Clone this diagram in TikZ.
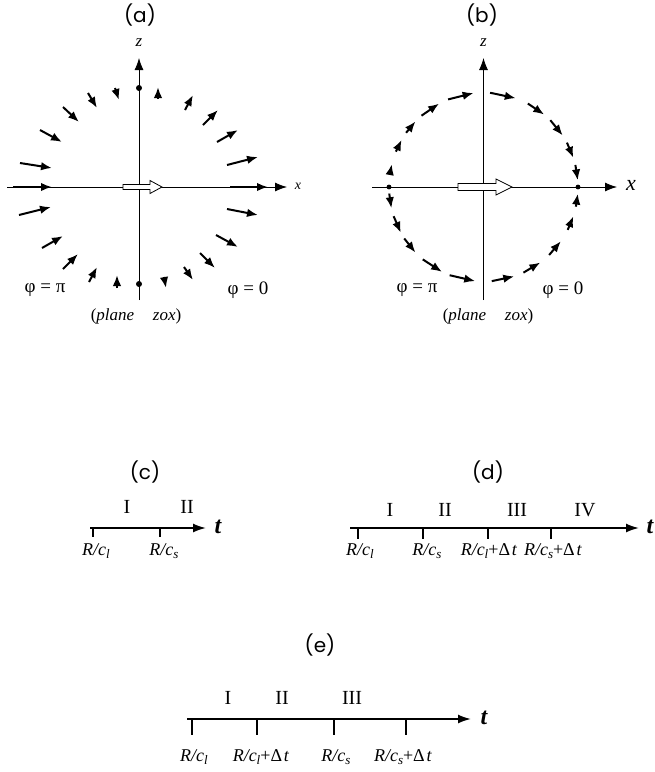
\documentclass[tikz,border=0pt]{standalone}
\usepackage{fontspec}
\setmainfont{Liberation Serif}
\newfontfamily\capfont{Poppins}
\usetikzlibrary{arrows.meta,calc}
\newcommand{\sbs}[1]{\raisebox{-0.35ex}{\fontsize{13}{13}\selectfont\itshape #1}}
\newcommand{\Rc}[1]{{\itshape R/c}\sbs{#1}}
\begin{document}
\begin{tikzpicture}[x=1pt,y=-1pt,
  fld/.style={line width=2pt,-{Latex[length=11pt,width=8.5pt]}},
  axis/.style={line width=0.8pt,-{Latex[length=12pt,width=9pt]}},
  tl/.style={line width=1.8pt,-{Latex[length=13pt,width=9pt]}},
  tickl/.style={line width=1.2pt},
  panlab/.style={font=\capfont\fontsize{20}{22}\selectfont},
  lab/.style={font=\fontsize{19}{21}\selectfont},
  pl/.style={font=\fontsize{17}{20}\selectfont},
  tlab/.style={font=\fontsize{18}{20}\selectfont},
  rom/.style={font=\fontsize{20}{22}\selectfont},
  tvar/.style={font=\bfseries\itshape\fontsize{24}{26}\selectfont},
  hol/.style={draw,fill=white,line width=0.8pt}
]
\useasboundingbox (0,0) rectangle (655,772);

% ---------- panel (a)
\coordinate (axL) at (7,187); \coordinate (axR) at (287,187);
\coordinate (azB) at (139,300); \coordinate (azT) at (139,58);
\draw[axis] (axL) -- (axR);
\draw[axis] (azB) -- (azT);
\node[panlab] (la) at (140,15) {(a)};
\node[font=\itshape\fontsize{17}{17}\selectfont] (za) at (139,43) {z};
\node[font=\itshape\fontsize{14}{14}\selectfont] (xa) at (298,186) {x};
\fill (139,88) circle (3);
\fill (139,284) circle (3);
\foreach \a/\b/\c/\d in {13/187/52/187, 20/163/52/168, 40/130/62/142, 63/107/79/122,
  88/93/97/108, 115/88/119/100, 158/99/158/87, 185/110/193/95, 203/125/218/110,
  217/142/238/130, 227/165/258/157, 230/187/268/187, 227/209/258/215,
  216/235/238/247, 200/253/215/268, 184/267/193/280, 164/277/166/288,
  117/288/117/275, 89/282/97/267, 63/269/78/254, 42/248/63/236, 19/215/51/207}
  \draw[fld] (\a,\b) -- (\c,\d);
\draw[hol] (123,184.5) -- (150,184.5) -- (150,180.5) -- (162,187) -- (150,193.5) -- (150,189.5) -- (123,189.5) -- cycle;
\node[lab] (pa) at (45,290) {φ\hspace{0.25em}=\hspace{0.25em}π};
\node[lab] (qa) at (248,290) {φ\hspace{0.25em}=\hspace{0.25em}0};
\node[pl] (pla) at (136,316) {(\textit{plane}\hspace{1.1em}\textit{zox})};

% ---------- panel (b)
\coordinate (cb) at (483.5,187);
\coordinate (bxL) at (372,187); \coordinate (bxR) at (617,187);
\coordinate (bzB) at (483.5,300); \coordinate (bzT) at (483.5,58);
\draw[axis] (bxL) -- (bxR);
\draw[axis] (bzB) -- (bzT);
\node[panlab] (lb) at (482,15) {(b)};
\node[font=\itshape\fontsize{17}{17}\selectfont] (zb) at (483.5,43) {z};
\node[font=\itshape\fontsize{22}{22}\selectfont] (xb) at (631,185) {x};
\fill (389,187) circle (2.4);
\fill (578,187) circle (2.4);
\foreach \s/\e in {13.5/4, 28/18, 45/33, 62/50, 86/70, 112/96, 131/118, 145/136, 158/150, 172/166,
  184/193, 198/209, 213/224, 230/244, 249/265, 275/289, 295/307, 314/325, 333/342, 348/356}
  \draw[fld] ($(cb)+(-\s:94.5)$) -- ($(cb)+(-\e:94.5)$);
\draw[hol] (458,183.5) -- (496,183.5) -- (496,179) -- (512,187) -- (496,195) -- (496,190.5) -- (458,190.5) -- cycle;
\node[lab] (pb) at (417,290) {φ\hspace{0.25em}=\hspace{0.25em}π};
\node[lab] (qb) at (563,290) {φ\hspace{0.25em}=\hspace{0.25em}0};
\node[pl] (plb) at (488,316) {(\textit{plane}\hspace{1.1em}\textit{zox})};

% ---------- panel (c)
\node[panlab] (lc) at (145,472) {(c)};
\coordinate (c0) at (90,528); \coordinate (c1) at (132,528); \coordinate (c2) at (206,528);
\draw[line width=1.1pt] (c0) -- (c1);
\draw[tl] (c1) -- (c2);
\draw[tickl] (93,528) -- (93,537);
\draw[tickl] (160,528) -- (160,537);
\node[rom] (c-I) at (127,507) {I};
\node[rom] (c-II) at (187,507) {II};
\node[tvar] (ct) at (218,527) {t};
\node[tlab] (cl1) at (96,551) {\Rc{l}};
\node[tlab] (cl2) at (164,551) {\Rc{s}};

% ---------- panel (d)
\node[panlab] (ld) at (488,472) {(d)};
\coordinate (d0) at (350,528); \coordinate (d1) at (639,528);
\draw[tl] (d0) -- (d1);
\foreach \x in {358,423,488,551} \draw[tickl] (\x,528) -- (\x,539);
\node[rom] (d-I) at (390,510) {I};
\node[rom] (d-II) at (445,510) {II};
\node[rom] (d-III) at (517,510) {III};
\node[rom] (d-IV) at (585,510) {IV};
\node[tvar] (dt) at (650,527) {t};
\node[tlab] (dl1) at (360,551) {\Rc{l}};
\node[tlab] (dl2) at (427,551) {\Rc{s}};
\node[tlab] (dl3) at (489,551) {\Rc{l}+Δ\hspace{0.1em}\textit{t}};
\node[tlab] (dl4) at (553,551) {\Rc{s}+Δ\hspace{0.1em}\textit{t}};

% ---------- panel (e)
\node[panlab] (le) at (320,645) {(e)};
\coordinate (e0) at (187,719); \coordinate (e1) at (471,719);
\draw[tl] (e0) -- (e1);
\foreach \x in {192,257,334,406} \draw[tickl] (\x,719) -- (\x,735);
\node[rom] (e-I) at (228,698) {I};
\node[rom] (e-II) at (282,698) {II};
\node[rom] (e-III) at (352,698) {III};
\node[tvar] (et) at (484,718) {t};
\node[tlab] (el1) at (194,757) {\Rc{l}};
\node[tlab] (el2) at (261,757) {\Rc{l}+Δ\hspace{0.1em}\textit{t}};
\node[tlab] (el3) at (336,757) {\Rc{s}};
\node[tlab] (el4) at (403,757) {\Rc{s}+Δ\hspace{0.1em}\textit{t}};
\end{tikzpicture}
\end{document}
